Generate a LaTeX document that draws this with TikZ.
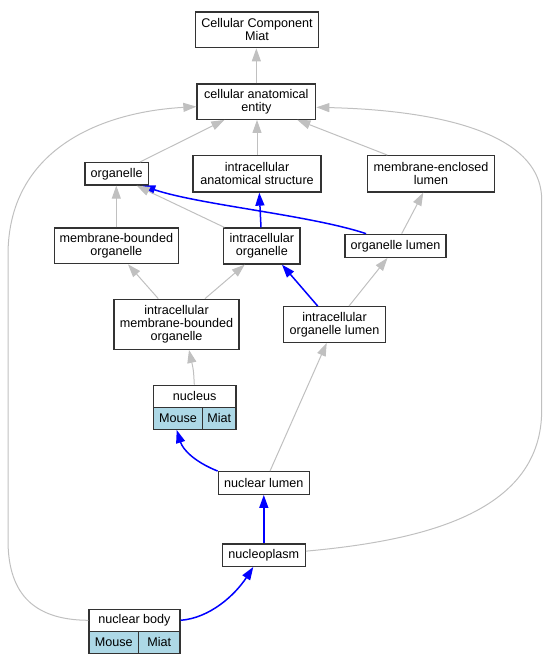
\documentclass[tikz,border=0pt]{standalone}
\usepackage{fontspec}
\setmainfont{Liberation Sans}
\usetikzlibrary{arrows.meta,calc}
\definecolor{edgegray}{HTML}{C0C0C0}
\definecolor{boxline}{HTML}{333333}
\definecolor{cellblue}{HTML}{ADD8E6}
\tikzset{
  box/.style={draw=boxline, line width=1.3pt, fill=white, inner sep=0pt, align=center,
              font=\fontsize{12.6}{13}\selectfont},
  cell/.style={box, fill=cellblue},
  gedge/.style={draw=edgegray, line width=1pt, -{Triangle[length=13pt,width=9pt]}},
  bedge/.style={draw=blue, line width=1.5pt, -{Triangle[length=13pt,width=9pt]}},
}
\begin{document}
\begin{tikzpicture}[x=1pt,y=-1pt]
\useasboundingbox (0,0) rectangle (549,664);
% nodes
\node[box, minimum width=123.4pt, minimum height=35.7pt] (ccm) at (257,29.85) {Cellular Component\\Miat};
\node[box, minimum width=118.7pt, minimum height=35.3pt] (cae) at (256.35,101.65) {cellular anatomical\\entity};
\node[box, minimum width=63.3pt, minimum height=22.3pt] (org) at (116.65,173.85) {organelle};
\node[box, minimum width=128pt, minimum height=36.3pt] (ias) at (257,173.85) {intracellular\\anatomical structure};
\node[box, minimum width=126.6pt, minimum height=36.3pt] (mel) at (431,173.85) {membrane-enclosed\\lumen};
\node[box, minimum width=124pt, minimum height=35.7pt] (mbo) at (116.3,245.85) {membrane-bounded\\organelle};
\node[box, minimum width=76.3pt, minimum height=36pt] (io) at (261.85,246) {intracellular\\organelle};
\node[box, minimum width=101pt, minimum height=23pt] (ol) at (395.5,245.8) {organelle lumen};
\node[box, minimum width=125pt, minimum height=50pt] (imbo) at (176.5,324.3) {intracellular\\membrane-bounded\\organelle};
\node[box, minimum width=101.6pt, minimum height=35.6pt] (iol) at (334.5,324.5) {intracellular\\organelle lumen};
\node[box, minimum width=82.7pt, minimum height=22pt] (nuch) at (194.65,396.3) {nucleus};
\node[cell, minimum width=49.4pt, minimum height=22pt] (nucmouse) at (178,418.3) {Mouse};
\node[cell, minimum width=33.3pt, minimum height=22pt] (nucmiat) at (219.35,418.3) {Miat};
\node[box, minimum width=91pt, minimum height=22.6pt] (nl) at (263.8,483) {nuclear lumen};
\node[box, minimum width=83pt, minimum height=22.3pt] (np) at (263.8,555.15) {nucleoplasm};
\node[box, minimum width=91pt, minimum height=22pt] (nbh) at (134.5,620.3) {nuclear body};
\node[cell, minimum width=49.7pt, minimum height=22pt] (nbmouse) at (113.85,642.3) {Mouse};
\node[cell, minimum width=41.3pt, minimum height=22pt] (nbmiat) at (159.35,642.3) {Miat};
% edges
\draw[gedge] (cae.north) -- (cae.north |- ccm.south);
\draw[gedge] ($(org.north)+(23.3,0)$) -- ($(cae.south)+(-32,0)$);
\draw[gedge] (ias.north) -- (ias.north |- cae.south);
\draw[gedge] ($(mel.north)+(-43.7,0)$) -- ($(cae.south)+(41,0)$);
\draw[gedge] (nbh.west) .. controls (30,620) and (8,590) .. (8,540) -- (8,255)
   .. controls (8,150) and (100,112) .. ($(cae.west)+(0,5)$);
\draw[gedge] ($(np.east)+(0,-4)$) .. controls (430,540) and (541.7,510) .. (541.7,410) -- (541.7,200)
   .. controls (541.7,130) and (430,110) .. ($(cae.east)+(0,5.65)$);
\draw[gedge] (mbo.north) -- (mbo.north |- org.south);
\draw[bedge] ($(ol.north west)+(21.7,0)$) .. controls (310,215) and (200,205) .. ($(org.south)+(25.6,0)$);
\draw[gedge] ($(io.north west)+(1.3,0)$) -- ($(org.south)+(20,0)$);
\draw[bedge] ($(io.north)+(-0.85,0)$) -- ($(ias.south)+(2.3,0)$);
\draw[gedge] ($(ol.north)+(6.2,0)$) -- ($(mel.south)+(-7.7,0)$);
\draw[gedge] ($(imbo.north)+(-18.2,0)$) -- ($(mbo.south)+(11.7,0)$);
\draw[gedge] ($(imbo.north)+(28.5,0)$) -- ($(io.south)+(-17.15,0)$);
\draw[bedge] ($(iol.north)+(-16.8,0)$) -- ($(io.south)+(20.15,0)$);
\draw[gedge] ($(iol.north)+(14.5,0)$) -- ($(ol.south)+(-8,0)$);
\draw[gedge] ($(nuch.north)+(-0.35,0)$) .. controls (193.5,370) .. ($(imbo.south)+(12.5,0)$);
\draw[gedge] ($(nl.north)+(6.2,0)$) -- ($(iol.south)+(-7.8,0)$);
\draw[bedge] (nl.north west) .. controls (195,462) and (183,450) .. ($(nucmouse.south)+(-1.3,0)$);
\draw[bedge] (np.north) -- (nl.south);
\draw[bedge] (nbh.east) .. controls (210,618) and (235,595) .. ($(np.south)+(-10.5,0)$);
\end{tikzpicture}
\end{document}
